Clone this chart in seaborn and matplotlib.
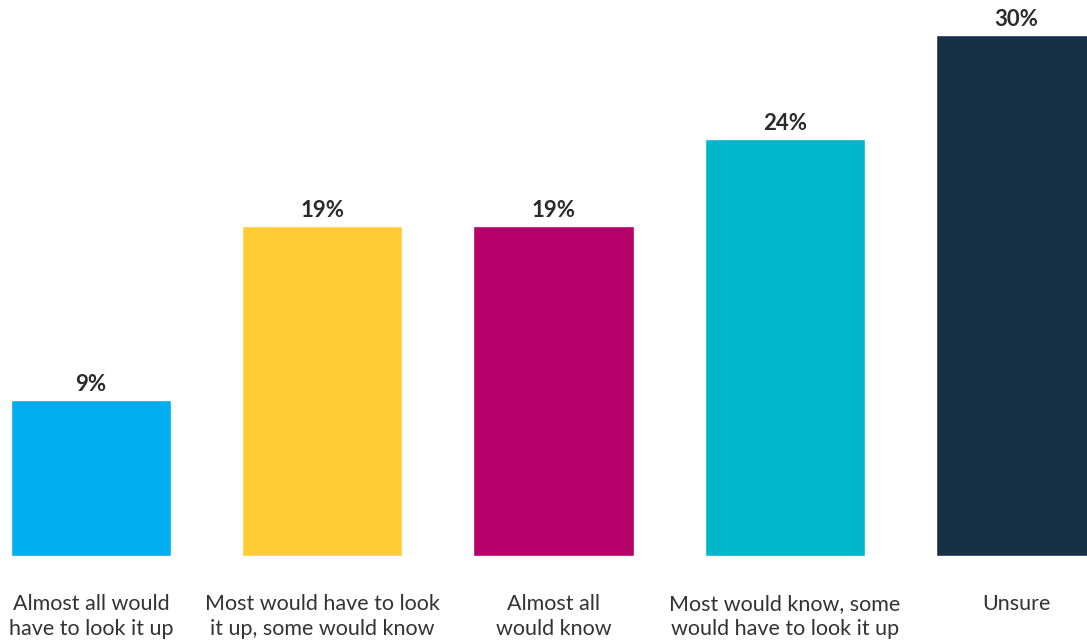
import matplotlib
matplotlib.use("Agg")
import matplotlib.pyplot as plt
import seaborn as sns
import pandas as pd

categories = ["Almost all would\nhave to look it up",
              "Most would have to look\nit up, some would know",
              "Almost all\nwould know",
              "Most would know, some\nwould have to look it up",
              "Unsure"]
values = [9, 19, 19, 24, 30]
value_labels = ["9%", "19%", "19%", "24%", "30%"]
colors = ["#00AEEF", "#FFCC33", "#B5006A", "#00B6CB", "#163045"]

sns.set_theme(style="white")
plt.rcParams['font.family'] = ['Lato', 'DejaVu Sans']

df = pd.DataFrame({"cat": categories, "val": values})
fig = plt.figure(figsize=(10.87, 6.43), dpi=100)
ax = fig.add_axes([0, 0, 1, 1])
sns.barplot(data=df, x="cat", y="val", hue="cat", palette=colors,
            width=0.692, legend=False, ax=ax, saturation=1)

ax.set_xlim(-0.3935, 4.307)
ax.set_ylim(-5.01, 32.01)
ax.axis("off")

for i, (v, lab) in enumerate(zip(values, value_labels)):
    ax.text(i, v + 0.5, lab, ha="center", va="baseline",
            fontsize=16, fontweight="bold", color="#2a2a2a")
    ax.text(i, -2.2, categories[i], ha="center", va="top",
            fontsize=15.5, color="#333333", linespacing=1.3)

fig.savefig("out.png", dpi=100)
